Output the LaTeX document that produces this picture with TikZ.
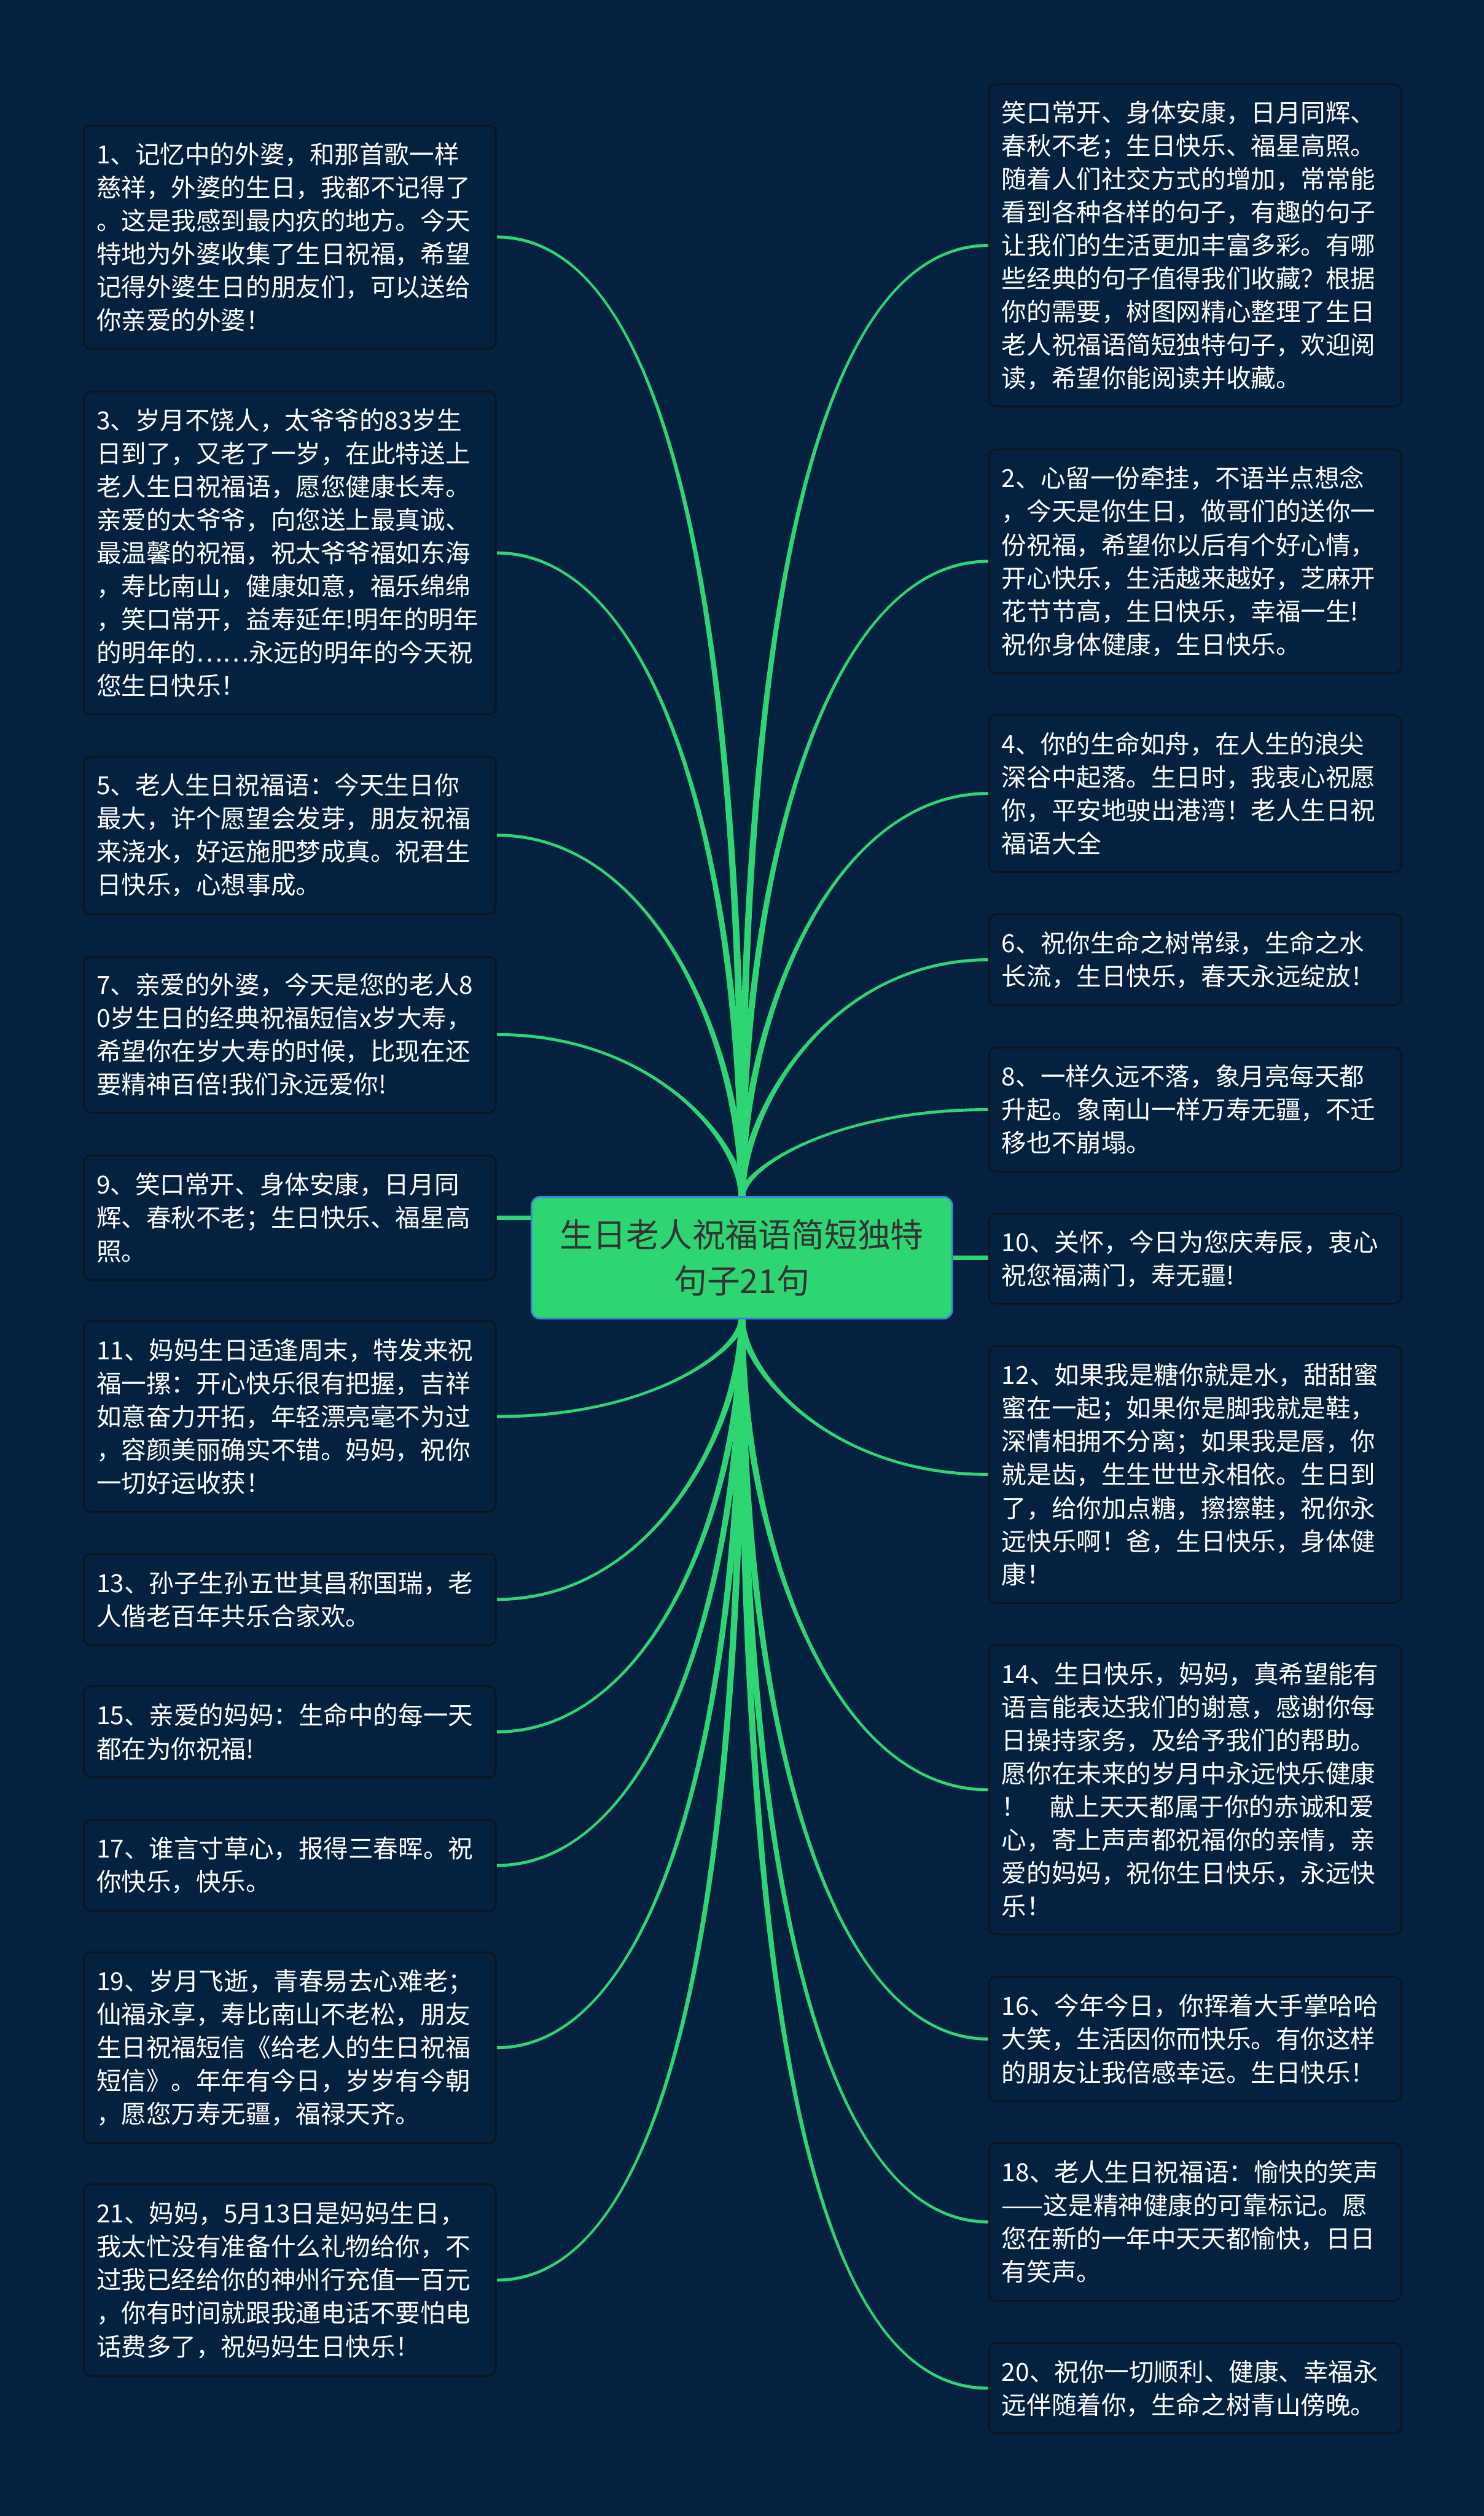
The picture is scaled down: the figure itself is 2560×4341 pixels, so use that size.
\documentclass[tikz,border=0pt]{standalone}
\usepackage{fontspec}
\newfontfamily\cjk{Noto Sans CJK SC}
\usetikzlibrary{calc}
\definecolor{bgc}{HTML}{04223F}
\definecolor{linkc}{HTML}{2ED573}
\definecolor{boxborder}{HTML}{0C141D}
\definecolor{centerborder}{HTML}{3A86D8}
\definecolor{centertext}{HTML}{333333}
\pgfdeclarelayer{bglayer}
\pgfsetlayers{bglayer,main}
\newcommand\wA{6}
\newcommand\wB{2.6}
\newcommand\bb{0.35}
% tapered curved connector: #1 start, #2 end, #3 vertical control fraction, #4 start side sign, #5 end side sign
\newcommand\tconn[5]{%
  \fill[linkc]
    ($(#1)+({(#4)*\wA},0)$)
    .. controls ($(#1)!#3!(#1|-#2)+({(#4)*\wA},0)$) and ($(#1|-#2)!\bb!(#2)+(0,{(#5)*\wB})$)
    .. ($(#2)+(0,{(#5)*\wB})$)
    -- ($(#2)+(0,{-(#5)*\wB})$)
    .. controls ($(#1|-#2)!\bb!(#2)+(0,{-(#5)*\wB})$) and ($(#1)!#3!(#1|-#2)+({-(#4)*\wA},0)$)
    .. ($(#1)+({-(#4)*\wA},0)$) -- cycle;}
\begin{document}
\begin{tikzpicture}[x=1pt,y=-1pt,
  card/.style={draw=boxborder, line width=3pt, fill=bgc, rounded corners=12pt,
    anchor=north west, text width=667pt, inner xsep=22pt, inner ysep=10pt,
    align=left, text=white, font=\cjk\fontsize{43pt}{57.3pt}\selectfont},
  hub/.style={fill=linkc, draw=centerborder, line width=3pt, rounded corners=15pt,
    minimum width=726pt, minimum height=210pt, align=center, text=centertext,
    font=\cjk\fontsize{57pt}{80pt}\selectfont},
  sidelink/.style={draw=linkc, line width=6.5pt}]
\useasboundingbox (0,0) rectangle (2560,4341);

\node[hub] (c) at (1280,2170) {生日老人祝福语简短独特\\句子21句};

% left column
\node[card, minimum height=385pt] (b1) at (143,215) {1、记忆中的外婆，和那首歌一样\\慈祥，外婆的生日，我都不记得了\\。这是我感到最内疚的地方。今天\\特地为外婆收集了生日祝福，希望\\记得外婆生日的朋友们，可以送给\\你亲爱的外婆！};
\node[card, minimum height=557pt] (b3) at (143,674) {3、岁月不饶人，太爷爷的83岁生\\日到了，又老了一岁，在此特送上\\老人生日祝福语，愿您健康长寿。\\亲爱的太爷爷，向您送上最真诚、\\最温馨的祝福，祝太爷爷福如东海\\，寿比南山，健康如意，福乐绵绵\\，笑口常开，益寿延年!明年的明年\\的明年的……永远的明年的今天祝\\您生日快乐！};
\node[card, minimum height=271pt] (b5) at (143,1304) {5、老人生日祝福语：今天生日你\\最大，许个愿望会发芽，朋友祝福\\来浇水，好运施肥梦成真。祝君生\\日快乐，心想事成。};
\node[card, minimum height=269pt] (b7) at (143,1649) {7、亲爱的外婆，今天是您的老人8\\0岁生日的经典祝福短信x岁大寿，\\希望你在岁大寿的时候，比现在还\\要精神百倍!我们永远爱你!};
\node[card, minimum height=215pt] (b9) at (143,1992) {9、笑口常开、身体安康，日月同\\辉、春秋不老；生日快乐、福星高\\照。};
\node[card, minimum height=329pt] (b11) at (143,2278) {11、妈妈生日适逢周末，特发来祝\\福一摞：开心快乐很有把握，吉祥\\如意奋力开拓，年轻漂亮毫不为过\\，容颜美丽确实不错。妈妈，祝你\\一切好运收获！};
\node[card, minimum height=158pt] (b13) at (143,2679) {13、孙子生孙五世其昌称国瑞，老\\人偕老百年共乐合家欢。};
\node[card, minimum height=157pt] (b15) at (143,2908) {15、亲爱的妈妈：生命中的每一天\\都在为你祝福!};
\node[card, minimum height=156pt] (b17) at (143,3139) {17、谁言寸草心，报得三春晖。祝\\你快乐，快乐。};
\node[card, minimum height=329pt] (b19) at (143,3367) {19、岁月飞逝，青春易去心难老；\\仙福永享，寿比南山不老松，朋友\\生日祝福短信《给老人的生日祝福\\短信》。年年有今日，岁岁有今朝\\，愿您万寿无疆，福禄天齐。};
\node[card, minimum height=331pt] (b21) at (143,3767) {21、妈妈，5月13日是妈妈生日，\\我太忙没有准备什么礼物给你，不\\过我已经给你的神州行充值一百元\\，你有时间就跟我通电话不要怕电\\话费多了，祝妈妈生日快乐！};

% right column
\node[card, minimum height=556pt] (b0) at (1705,144) {笑口常开、身体安康，日月同辉、\\春秋不老；生日快乐、福星高照。\\随着人们社交方式的增加，常常能\\看到各种各样的句子，有趣的句子\\让我们的生活更加丰富多彩。有哪\\些经典的句子值得我们收藏？根据\\你的需要，树图网精心整理了生日\\老人祝福语简短独特句子，欢迎阅\\读，希望你能阅读并收藏。};
\node[card, minimum height=386pt] (b2) at (1705,774) {2、心留一份牵挂，不语半点想念\\，今天是你生日，做哥们的送你一\\份祝福，希望你以后有个好心情，\\开心快乐，生活越来越好，芝麻开\\花节节高，生日快乐，幸福一生!\\祝你身体健康，生日快乐。};
\node[card, minimum height=271pt] (b4) at (1705,1232) {4、你的生命如舟，在人生的浪尖\\深谷中起落。生日时，我衷心祝愿\\你，平安地驶出港湾！老人生日祝\\福语大全};
\node[card, minimum height=157pt] (b6) at (1705,1576) {6、祝你生命之树常绿，生命之水\\长流，生日快乐，春天永远绽放！};
\node[card, minimum height=214pt] (b8) at (1705,1806) {8、一样久远不落，象月亮每天都\\升起。象南山一样万寿无疆，不迁\\移也不崩塌。};
\node[card, minimum height=155pt] (b10) at (1705,2093) {10、关怀，今日为您庆寿辰，衷心\\祝您福满门，寿无疆!};
\node[card, minimum height=443pt] (b12) at (1705,2321) {12、如果我是糖你就是水，甜甜蜜\\蜜在一起；如果你是脚我就是鞋，\\深情相拥不分离；如果我是唇，你\\就是齿，生生世世永相依。生日到\\了，给你加点糖，擦擦鞋，祝你永\\远快乐啊！爸，生日快乐，身体健\\康！};
\node[card, minimum height=499pt] (b14) at (1705,2837) {14、生日快乐，妈妈，真希望能有\\语言能表达我们的谢意，感谢你每\\日操持家务，及给予我们的帮助。\\愿你在未来的岁月中永远快乐健康\\！\hspace{40pt}献上天天都属于你的赤诚和爱\\心，寄上声声都祝福你的亲情，亲\\爱的妈妈，祝你生日快乐，永远快\\乐！};
\node[card, minimum height=215pt] (b16) at (1705,3409) {16、今年今日，你挥着大手掌哈哈\\大笑，生活因你而快乐。有你这样\\的朋友让我倍感幸运。生日快乐！};
\node[card, minimum height=272pt] (b18) at (1705,3696) {18、老人生日祝福语：愉快的笑声\\——这是精神健康的可靠标记。愿\\您在新的一年中天天都愉快，日日\\有笑声。};
\node[card, minimum height=156pt] (b20) at (1705,4041) {20、祝你一切顺利、健康、幸福永\\远伴随着你，生命之树青山傍晚。};

\begin{pgfonlayer}{bglayer}
\fill[bgc] (0,0) rectangle (2560,4341);
% upper left
\tconn{c.north}{b1.east}{0.66}{1}{-1}
\tconn{c.north}{b3.east}{0.53}{1}{-1}
\tconn{c.north}{b5.east}{0.41}{1}{-1}
\tconn{c.north}{b7.east}{0.32}{1}{-1}
% upper right
\tconn{c.north}{b0.west}{0.66}{1}{1}
\tconn{c.north}{b2.west}{0.52}{1}{1}
\tconn{c.north}{b4.west}{0.42}{1}{1}
\tconn{c.north}{b6.west}{0.35}{1}{1}
\tconn{c.north}{b8.west}{0.29}{1}{1}
% lower left
\tconn{c.south}{b11.east}{0.29}{-1}{-1}
\tconn{c.south}{b13.east}{0.37}{-1}{-1}
\tconn{c.south}{b15.east}{0.43}{-1}{-1}
\tconn{c.south}{b17.east}{0.49}{-1}{-1}
\tconn{c.south}{b19.east}{0.56}{-1}{-1}
\tconn{c.south}{b21.east}{0.66}{-1}{-1}
% lower right
\tconn{c.south}{b12.west}{0.32}{-1}{1}
\tconn{c.south}{b14.west}{0.45}{-1}{1}
\tconn{c.south}{b16.west}{0.56}{-1}{1}
\tconn{c.south}{b18.west}{0.64}{-1}{1}
\tconn{c.south}{b20.west}{0.71}{-1}{1}
% side links
\draw[sidelink] (b9.east) -- (b9.east -| c.west);
\draw[sidelink] (c.east) -- (c.east -| b10.west);
\end{pgfonlayer}
\end{tikzpicture}
\end{document}
